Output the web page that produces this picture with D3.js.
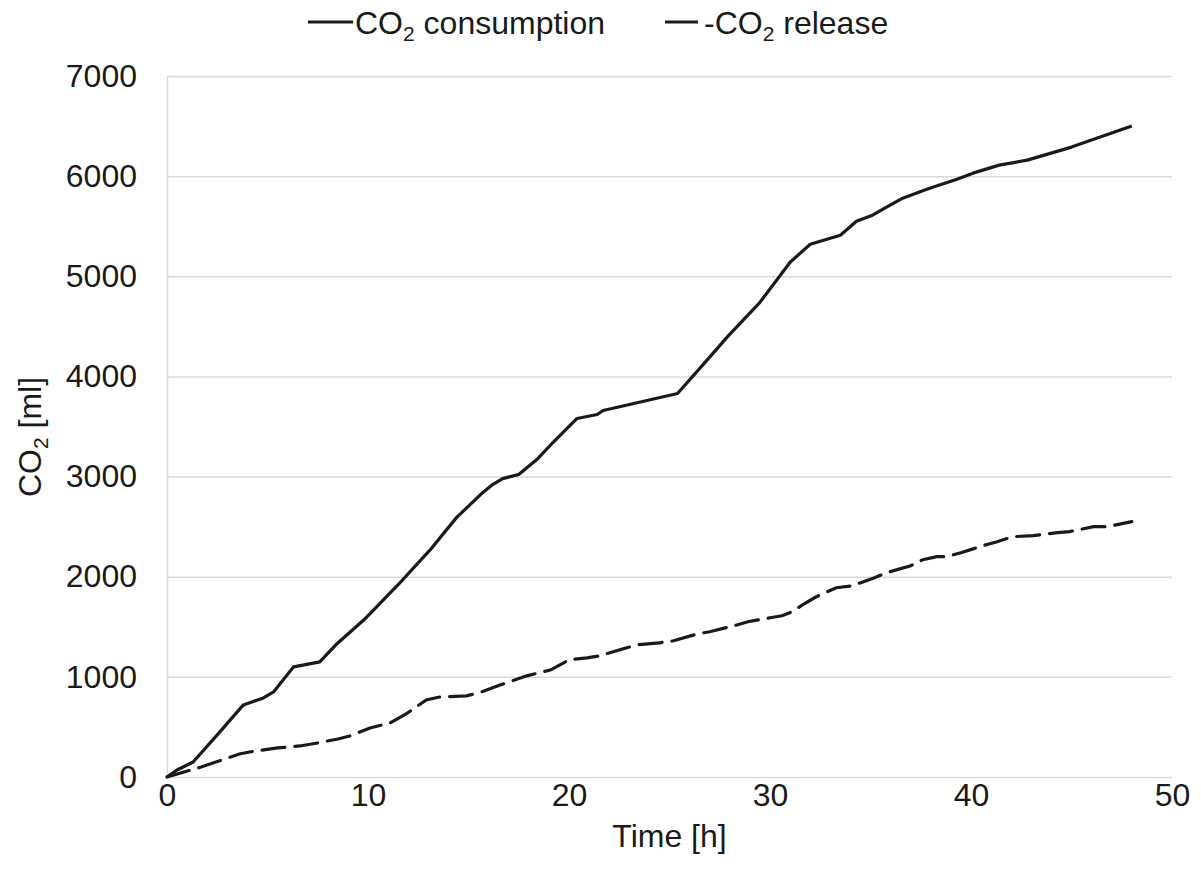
<!DOCTYPE html>
<html>
<head>
<meta charset="utf-8">
<script src="https://cdn.jsdelivr.net/npm/d3@7"></script>
<style>
  body { margin: 0; background: #fff; }
  svg { display: block; font-family: "Liberation Sans", Arial, sans-serif; }
</style>
</head>
<body>
<div id="chart"></div>
<script>
// CO2 consumption / release over time
const consumptionT = [0, 0.5, 1.3, 2.5, 3.8, 4.8, 5.3, 6.3, 7.6, 8.4, 9.8, 11.5, 13.1, 14.4, 15.6, 16.2, 16.7, 17.5, 18.4, 19.2, 20.4, 21.4, 21.7, 25.4, 26.9, 27.9, 29.5, 31.0, 32.0, 33.5, 34.3, 35.1, 35.8, 36.6, 37.8, 39.3, 40.1, 41.4, 42.8, 45.0, 48.0];
const consumptionV = [0, 70, 150, 420, 720, 790, 850, 1100, 1150, 1320, 1570, 1920, 2270, 2590, 2820, 2920, 2980, 3020, 3170, 3340, 3580, 3620, 3660, 3830, 4170, 4400, 4740, 5140, 5320, 5410, 5550, 5610, 5690, 5780, 5870, 5970, 6030, 6110, 6160, 6290, 6500];

const releaseT = [0, 1.7, 3.6, 4.1, 5.5, 6.6, 7.5, 8.5, 9.1, 10.1, 11.1, 11.9, 12.9, 13.6, 14.9, 15.5, 16.6, 17.9, 19.1, 20.0, 20.9, 21.5, 22.7, 23.4, 24.5, 25.2, 26.4, 27.0, 28.2, 28.9, 30.0, 30.6, 31.1, 31.7, 32.3, 33.3, 34.1, 35.2, 35.8, 37.0, 37.6, 38.3, 38.8, 39.5, 40.6, 41.3, 42.1, 43.1, 44.3, 44.9, 46.1, 46.8, 48.0];
const releaseV = [0, 100, 230, 250, 290, 310, 340, 380, 410, 490, 540, 630, 770, 800, 810, 840, 920, 1010, 1070, 1170, 1190, 1210, 1280, 1320, 1340, 1360, 1430, 1450, 1510, 1550, 1590, 1610, 1650, 1730, 1800, 1890, 1910, 1990, 2040, 2110, 2170, 2200, 2200, 2240, 2310, 2350, 2400, 2410, 2440, 2450, 2500, 2500, 2550];

const xTicks = [0, 10, 20, 30, 40, 50];
const yTicks = [0, 1000, 2000, 3000, 4000, 5000, 6000, 7000];

(function () {
    const W = 1201, H = 885;
    const pl = 167, pr = 1172, pt = 76, pb = 777;
    const FS = 32;

    const svg = d3.select('#chart').append('svg').attr('width', W).attr('height', H);

    const x = d3.scaleLinear().domain([0, 50]).range([pl, pr]);
    const y = d3.scaleLinear().domain([0, 7000]).range([pb, pt]);

    // gridlines
    svg.append('g').selectAll('line').data(yTicks).enter().append('line')
        .attr('x1', pl).attr('x2', pr)
        .attr('y1', d => y(d) + 0.5).attr('y2', d => y(d) + 0.5)
        .attr('stroke', '#d9d9d9').attr('stroke-width', 1.5);

    // left axis line
    svg.append('line').attr('x1', pl + 0.5).attr('x2', pl + 0.5).attr('y1', pt).attr('y2', pb)
        .attr('stroke', '#d9d9d9').attr('stroke-width', 1.5);

    // axes (labels only)
    const yAxis = d3.axisLeft(y).tickValues(yTicks).tickSize(0).tickPadding(30).tickFormat(d3.format('d'));
    const gy = svg.append('g').attr('transform', `translate(${pl},0)`).call(yAxis);
    gy.select('.domain').remove();
    gy.selectAll('text').attr('fill', '#1a1a1a').style('font-size', FS + 'px');

    const xAxis = d3.axisBottom(x).tickValues(xTicks).tickSize(0).tickPadding(6);
    const gx = svg.append('g').attr('transform', `translate(0,${pb})`).call(xAxis);
    gx.select('.domain').remove();
    gx.selectAll('text').attr('fill', '#1a1a1a').style('font-size', FS + 'px');

    // axis titles
    svg.append('text').attr('x', (pl + pr) / 2).attr('y', 847).attr('text-anchor', 'middle')
        .attr('fill', '#1a1a1a').style('font-size', FS + 'px').text('Time [h]');

    const yt = svg.append('text').attr('transform', 'translate(41,437) rotate(-90)').attr('text-anchor', 'middle')
        .attr('fill', '#1a1a1a').style('font-size', FS + 'px');
    yt.append('tspan').text('CO');
    yt.append('tspan').attr('dy', 7).style('font-size', '21px').text('2');
    yt.append('tspan').attr('dy', -7).text(' [ml]');

    // lines
    const line = d3.line().x(d => x(d[0])).y(d => y(d[1]));
    const consumption = consumptionT.map((t, i) => [t, consumptionV[i]]);
    const release = releaseT.map((t, i) => [t, releaseV[i]]);

    svg.append('path').datum(consumption).attr('d', line)
        .attr('fill', 'none').attr('stroke', '#1a1a1a').attr('stroke-width', 3.2).attr('stroke-linejoin', 'round');
    svg.append('path').datum(release).attr('d', line)
        .attr('fill', 'none').attr('stroke', '#1a1a1a').attr('stroke-width', 3.2)
        .attr('stroke-dasharray', '23,10').attr('stroke-linecap', 'round');

    // legend
    const lg = svg.append('g');
    lg.append('line').attr('x1', 308).attr('x2', 353).attr('y1', 22).attr('y2', 22)
        .attr('stroke', '#1a1a1a').attr('stroke-width', 3);
    const t1 = lg.append('text').attr('x', 355).attr('y', 34).attr('fill', '#1a1a1a').style('font-size', FS + 'px');
    t1.append('tspan').text('CO');
    t1.append('tspan').attr('dy', 7).style('font-size', '21px').text('2');
    t1.append('tspan').attr('dy', -7).text(' consumption');

    lg.append('line').attr('x1', 665).attr('x2', 698).attr('y1', 22).attr('y2', 22)
        .attr('stroke', '#1a1a1a').attr('stroke-width', 3);
    const t2 = lg.append('text').attr('x', 704).attr('y', 34).attr('fill', '#1a1a1a').style('font-size', FS + 'px');
    t2.append('tspan').text('-CO');
    t2.append('tspan').attr('dy', 7).style('font-size', '21px').text('2');
    t2.append('tspan').attr('dy', -7).text(' release');
})();
</script>
</body>
</html>
